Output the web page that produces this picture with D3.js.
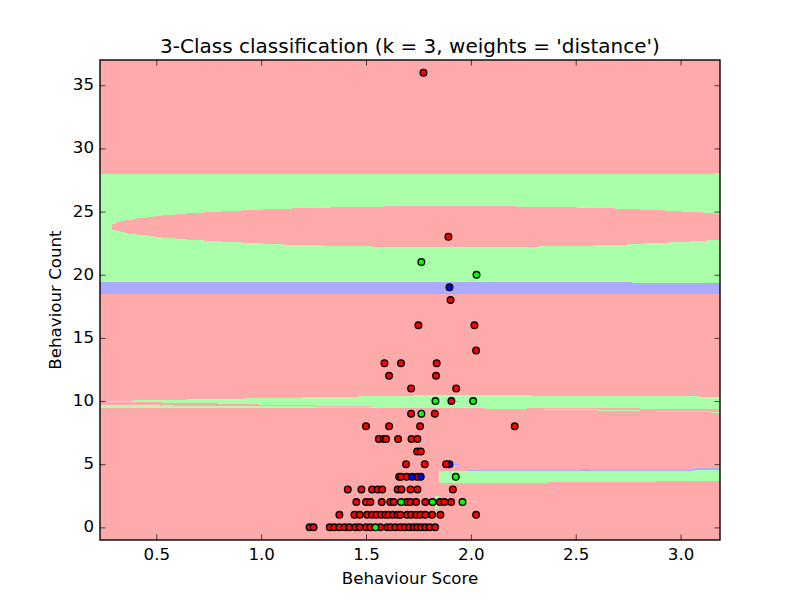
<!DOCTYPE html>
<html>
<head>
<meta charset="utf-8">
<script src="https://cdn.jsdelivr.net/npm/d3@7"></script>
<style>
body { margin: 0; background: #fff; }
text { font-family: "DejaVu Sans", sans-serif; fill: #000; }
</style>
</head>
<body>
<div id="vis"></div>
<script>
var xTicks = [0.5, 1.0, 1.5, 2.0, 2.5, 3.0];
var yTicks = [0, 5, 10, 15, 20, 25, 30, 35];
var xDomain = [0.2315, 3.188];
var yDomain = [-1, 37];

// points, one row per behaviour count: 0 red, 1 green, 2 blue
var countRows = [0, 1, 2, 3, 4, 5, 6, 7, 8, 9, 10, 11, 12, 13, 14, 16, 18, 19, 20, 21, 23, 36];
var scoreRows = [
	[1.231, 1.250, 1.327, 1.349, 1.373, 1.398, 1.421, 1.449, 1.470, 1.500, 1.521, 1.569, 1.601, 1.617, 1.640, 1.664, 1.685, 1.707, 1.728, 1.745, 1.763, 1.783, 1.804, 1.830, 1.545],
	[1.373, 1.445, 1.470, 1.505, 1.529, 1.550, 1.572, 1.593, 1.608, 1.629, 1.650, 1.664, 1.696, 1.715, 1.739, 1.760, 1.783, 1.815, 1.855, 2.025],
	[1.454, 1.500, 1.521, 1.575, 1.616, 1.632, 1.693, 1.712, 1.739, 1.783, 1.852, 1.874, 1.906, 1.667, 1.817, 1.960],
	[1.413, 1.478, 1.529, 1.556, 1.577, 1.651, 1.669, 1.712, 1.745, 1.914],
	[1.658, 1.667, 1.694, 1.744, 1.720, 1.761, 1.928],
	[1.898, 1.691, 1.780, 1.882],
	[1.744, 1.761],
	[1.561, 1.585, 1.596, 1.653, 1.717, 1.745],
	[1.500, 1.610, 1.758, 2.209],
	[1.715, 1.828, 1.764],
	[1.907, 1.831, 2.011],
	[1.715, 1.930],
	[1.610, 1.834],
	[1.588, 1.667, 1.837],
	[2.025],
	[1.750, 2.017],
	[1.903],
	[1.898],
	[2.027],
	[1.764],
	[1.893],
	[1.774]
];
var classRows = [
	[0, 0, 0, 0, 0, 0, 0, 0, 0, 0, 0, 0, 0, 0, 0, 0, 0, 0, 0, 0, 0, 0, 0, 0, 1],
	[0, 0, 0, 0, 0, 0, 0, 0, 0, 0, 0, 0, 0, 0, 0, 0, 0, 0, 0, 0],
	[0, 0, 0, 0, 0, 0, 0, 0, 0, 0, 0, 0, 0, 1, 1, 1],
	[0, 0, 0, 0, 0, 0, 0, 0, 0, 0],
	[0, 0, 0, 0, 2, 2, 1],
	[2, 0, 0, 0],
	[0, 0],
	[0, 0, 0, 0, 0, 0],
	[0, 0, 0, 0],
	[0, 0, 1],
	[0, 1, 1],
	[0, 0],
	[0, 0],
	[0, 0, 0],
	[0],
	[0, 0],
	[0],
	[2],
	[1],
	[1],
	[0],
	[0]
];

// decision regions, as steps in data units
var highGreenX = [0.2315, 2.769, 3.164, 3.188];
var highGreenTop = [27.97, 27.97, 28.05, 28.05];
var highGreenBottom = [19.42, 19.35, 19.35, 19.35];

var blueBandX = [0.2315, 2.769, 3.188];
var blueBandTop = [19.42, 19.35, 19.35];
var blueBandBottom = [18.47, 18.47, 18.47];

var ellipseX = [0.289, 0.308, 0.327, 0.351, 0.370, 0.389, 0.408, 0.451, 0.489, 0.527, 0.589, 0.646, 0.727, 0.809, 0.909, 1.009, 1.109, 1.147, 1.290, 1.328, 1.529, 1.586, 2.225, 2.325, 2.506, 2.587, 2.687, 2.745, 2.807, 2.826, 2.926, 2.945, 3.007, 3.045, 3.107, 3.126, 3.164, 3.188];
var ellipseTop = [24.01, 24.17, 24.25, 24.33, 24.33, 24.41, 24.49, 24.57, 24.65, 24.73, 24.81, 24.89, 24.97, 25.05, 25.12, 25.20, 25.20, 25.28, 25.28, 25.36, 25.36, 25.44, 25.36, 25.36, 25.28, 25.28, 25.20, 25.20, 25.12, 25.12, 25.05, 25.05, 24.97, 24.97, 24.89, 24.89, 24.81, 24.81];
var ellipseBottom = [23.54, 23.46, 23.38, 23.30, 23.22, 23.22, 23.15, 23.07, 22.99, 22.91, 22.83, 22.75, 22.67, 22.59, 22.51, 22.43, 22.35, 22.35, 22.27, 22.27, 22.19, 22.19, 22.19, 22.27, 22.27, 22.35, 22.35, 22.43, 22.43, 22.51, 22.51, 22.59, 22.59, 22.67, 22.67, 22.75, 22.75, 22.75];

var tenBandX = [0.265, 0.389, 0.527, 0.646, 0.789, 0.928, 0.990, 1.195, 1.266, 1.467, 1.529, 1.729, 2.068, 2.268, 2.287, 2.807, 3.088, 3.188];
var tenBandTop = [10.00, 10.08, 10.08, 10.16, 10.16, 10.24, 10.24, 10.32, 10.32, 10.40, 10.40, 10.48, 10.48, 10.48, 10.40, 10.40, 10.32, 10.32];
var tenBandBottom = [9.92, 9.92, 9.85, 9.85, 9.77, 9.77, 9.69, 9.69, 9.61, 9.61, 9.45, 9.45, 9.37, 9.45, 9.45, 9.37, 9.37, 9.37];

var nineStripX = [0.2315, 0.589, 1.266, 1.529];
var nineStripTop = [9.69, 9.61, 9.53, 9.53];
var nineStripBottom = [9.45, 9.45, 9.45, 9.45];

var rightStripX = [2.349, 2.606, 2.807, 2.888, 3.145, 3.188];
var rightStripTop = [9.37, 9.29, 9.21, 9.21, 9.13, 9.13];
var rightStripBottom = [9.29, 9.21, 9.21, 9.13, 9.05, 9.05];

var fourBandX = [1.848, 2.368, 2.888, 3.064, 3.188];
var fourBandTop = [4.46, 4.46, 4.46, 4.54, 4.54];
var fourBandBottom = [3.51, 3.59, 3.67, 3.67, 3.67];

var fourBlueX = [1.986, 2.525, 2.568, 3.064, 3.188];
var fourBlueTop = [4.54, 4.62, 4.54, 4.70, 4.70];
var fourBlueBottom = [4.46, 4.46, 4.46, 4.54, 4.54];

var regionColors = ["#FFAAAA", "#AAFFAA", "#AAAAFF"];
var pointColors = ["#FF0000", "#00FF00", "#0000FF"];

var w = 800;
var h = 600;
var left = 100, right = 720, top_ = 60, bottom = 540;

var x = d3.scaleLinear().domain(xDomain).range([left, right]);
var y = d3.scaleLinear().domain(yDomain).range([bottom, top_]);

var svg = d3.select("#vis")
	.append("svg")
	.attr("width", w)
	.attr("height", h)
	.style("display", "block");

var regions = [
	{ cls: 0, x: xDomain, top: [yDomain[1], yDomain[1]], bottom: [yDomain[0], yDomain[0]] },
	{ cls: 1, x: highGreenX, top: highGreenTop, bottom: highGreenBottom },
	{ cls: 2, x: blueBandX, top: blueBandTop, bottom: blueBandBottom },
	{ cls: 0, x: ellipseX, top: ellipseTop, bottom: ellipseBottom },
	{ cls: 1, x: tenBandX, top: tenBandTop, bottom: tenBandBottom },
	{ cls: 1, x: nineStripX, top: nineStripTop, bottom: nineStripBottom },
	{ cls: 1, x: rightStripX, top: rightStripTop, bottom: rightStripBottom },
	{ cls: 1, x: fourBandX, top: fourBandTop, bottom: fourBandBottom },
	{ cls: 2, x: fourBlueX, top: fourBlueTop, bottom: fourBlueBottom },
	// thin tails right of the lone points
	{ cls: 0, x: [1.905, 1.948], top: [10.04, 10.04], bottom: [9.96, 9.96] },
	{ cls: 2, x: [1.891, 1.948], top: [5.02, 5.02], bottom: [4.94, 4.94] },
	{ cls: 1, x: [1.958, 2.029], top: [2.05, 2.05], bottom: [1.97, 1.97] },
	{ cls: 1, x: [1.829, 1.848], top: [2.49, 2.49], bottom: [1.46, 1.46] }
];

var bandArea = d3.area()
	.curve(d3.curveStepAfter)
	.x(function(d) { return x(d.x); })
	.y0(function(d) { return y(d.bottom); })
	.y1(function(d) { return y(d.top); });

svg.selectAll("path.region")
	.data(regions)
	.enter()
	.append("path")
	.attr("class", "region")
	.attr("shape-rendering", "crispEdges")
	.attr("fill", function(d) { return regionColors[d.cls]; })
	.attr("d", function(d) {
		return bandArea(d.x.map(function(v, i) {
			return { x: v, top: d.top[i], bottom: d.bottom[i] };
		}));
	});

var points = [];
countRows.forEach(function(c, r) {
	scoreRows[r].forEach(function(s, i) {
		points.push({ score: s, count: c, cls: classRows[r][i] });
	});
});

svg.selectAll("circle")
	.data(points)
	.enter()
	.append("circle")
	.attr("cx", function(d) { return x(d.score); })
	.attr("cy", function(d) { return y(d.count); })
	.attr("r", 3.3)
	.attr("fill", function(d) { return pointColors[d.cls]; })
	.attr("stroke", "#000")
	.attr("stroke-width", 1.39);

// all four sides carry inward ticks, only bottom and left have labels
function styleAxis(g) {
	g.selectAll("path").remove();
	g.selectAll("line").attr("stroke", "#000").attr("stroke-width", 0.7);
	g.selectAll("text").style("font-size", "16.67px").style("font-family", "'DejaVu Sans'");
}

svg.append("g")
	.attr("transform", "translate(0," + bottom + ")")
	.call(d3.axisBottom(x).tickValues(xTicks).tickSize(-5.5).tickPadding(8).tickFormat(d3.format(".1f")))
	.call(styleAxis);

svg.append("g")
	.attr("transform", "translate(0," + top_ + ")")
	.call(d3.axisTop(x).tickValues(xTicks).tickSize(-5.5).tickFormat(""))
	.call(styleAxis);

svg.append("g")
	.attr("transform", "translate(" + left + ",0)")
	.call(d3.axisLeft(y).tickValues(yTicks).tickSize(-5.5).tickPadding(6).tickFormat(d3.format("d")))
	.call(styleAxis)
	.selectAll("text")
	.attr("dy", "0.27em");

svg.append("g")
	.attr("transform", "translate(" + right + ",0)")
	.call(d3.axisRight(y).tickValues(yTicks).tickSize(-5.5).tickFormat(""))
	.call(styleAxis);

svg.append("rect")
	.attr("x", left)
	.attr("y", top_)
	.attr("width", right - left)
	.attr("height", bottom - top_)
	.attr("fill", "none")
	.attr("stroke", "#000")
	.attr("stroke-width", 1.39);

svg.append("text")
	.attr("x", 410)
	.attr("y", 53)
	.attr("text-anchor", "middle")
	.style("font-size", "20px")
	.text("3-Class classification (k = 3, weights = 'distance')");

svg.append("text")
	.attr("x", 410)
	.attr("y", 584)
	.attr("text-anchor", "middle")
	.style("font-size", "16.67px")
	.text("Behaviour Score");

svg.append("text")
	.attr("transform", "translate(61,300) rotate(-90)")
	.attr("text-anchor", "middle")
	.style("font-size", "16.67px")
	.text("Behaviour Count");
</script>
</body>
</html>
